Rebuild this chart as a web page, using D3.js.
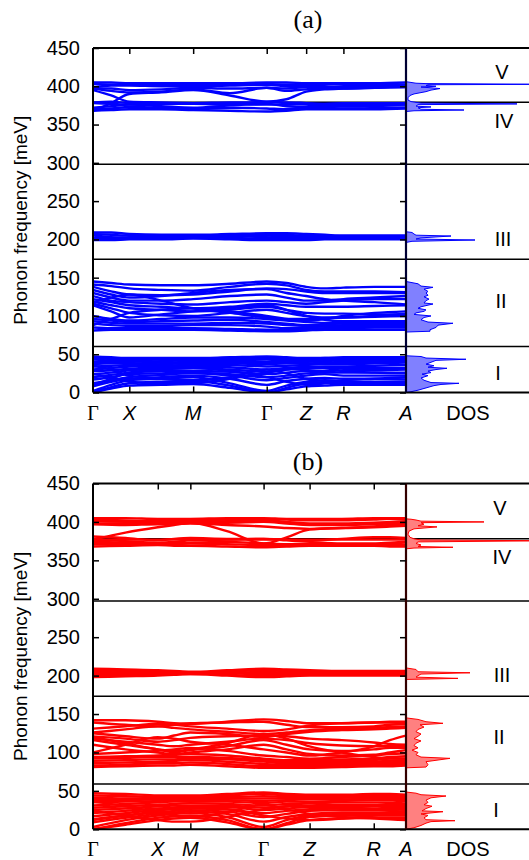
<!DOCTYPE html>
<html><head><meta charset="utf-8">
<script src="https://cdn.jsdelivr.net/npm/d3@7"></script>
<style>body{margin:0;background:#fff}</style></head>
<body>
<svg id="c" width="529" height="860"></svg>
<script>
// ---------- DATA ----------
const kLabels = ["Γ","X","M","Γ","Z","R","A"];
const kTicksA = [0, 0.116, 0.320, 0.555, 0.681, 0.800, 1.0];
const kTicksB = [0, 0.207, 0.311, 0.545, 0.692, 0.897, 1.0];
const yTicks = [0,50,100,150,200,250,300,350,400,450];
const romanLabels = ["V","IV","III","II","I"];
const romanFreq = [418, 355, 201, 120, 25];
const separatorsA = [60, 174, 298, 379];
const separatorsB = [59, 173, 297, 378];

// bands at nodes: Γ, ·, X, ·, M, ·, Γ, ·, Z, ·, R, ·, A
const bandsA = [
// group I
[0,5,9,10,11,6,0,4,8,9,10,10,10],
[0,7,12,14,15,9,0,6,12,13,12,12,12],
[2,10,16,18,20,12,2,9,14,16,15,14,14],
[8,14,18,20,22,18,10,15,18,19,18,18,17],
[12,16,20,23,25,22,16,19,22,24,22,22,22],
[17,20,24,25,26,24,20,22,25,26,26,26,26],
[20,23,26,28,28,27,24,26,28,28,29,29,30],
[24,26,29,31,32,30,27,30,31,32,32,32,32],
[28,29,31,33,34,33,30,32,33,34,34,35,36],
[30,32,34,35,36,36,34,35,36,37,37,38,39],
[34,35,36,37,38,38,37,38,38,39,40,40,41],
[37,38,38,39,40,40,40,40,40,41,42,42,42],
[40,40,40,41,42,42,43,42,42,43,43,43,43],
[43,42,42,43,43,44,45,44,43,44,44,44,44],
[45,44,44,44,44,45,46,45,44,45,45,45,45],
[47,46,45,45,45,46,47,46,45,45,46,46,46],
[35,30,22,18,16,20,30,25,18,15,14,13,12],
[24,20,14,12,12,18,26,30,34,32,28,26,25],
[10,18,26,30,32,28,20,14,10,12,16,18,20],
// group II
[145,143,141,140,140,142,145,143,138,136,137,138,138],
[141,139,136,134,133,138,142,140,134,132,132,132,131],
[138,132,128,127,128,132,136,135,132,130,130,130,130],
[134,128,124,126,130,134,135,130,126,122,120,118,115],
[130,124,120,120,122,126,128,124,120,120,122,124,126],
[126,120,118,116,115,118,120,118,116,118,120,122,122],
[122,118,114,112,110,112,116,114,112,112,112,113,114],
[119,114,110,108,106,108,112,108,104,103,103,102,102],
[116,110,104,101,100,104,108,104,100,98,98,99,100],
[114,106,98,102,106,110,114,108,100,95,93,93,93],
[100,96,94,96,98,98,96,94,92,91,91,92,92],
[96,94,92,93,94,95,92,90,88,89,90,90,90],
[93,91,90,90,90,91,90,88,87,87,88,88,88],
[90,88,87,87,88,88,86,84,85,86,86,86,86],
[85,84,84,84,84,83,82,82,83,84,84,85,85],
[81,82,82,82,82,81,80,80,81,82,82,82,82],
[118,124,128,120,110,104,98,96,96,97,98,100,103],
[88,96,104,108,110,106,100,96,94,96,100,104,106],
// group III
[209,209,207,206,206,207,208,208,207,206,205,205,205],
[207,206,205,205,205,206,207,206,205,205,204,204,204],
[205,203,202,203,204,205,205,204,204,203,203,203,203],
[202,202,203,204,204,204,203,202,202,202,202,202,202],
[200,200,201,202,203,202,201,201,200,201,201,201,201],
[199,199,200,200,201,200,199,199,199,200,200,200,200],
// group IV
[379,380,378,378,378,379,379,379,378,377,377,376,376],
[378,377,376,377,377,376,380,378,376,374,374,375,376],
[372,374,376,374,372,375,377,374,373,374,374,373,372],
[370,371,373,372,371,372,371,370,372,372,371,371,372],
[368,369,370,370,369,368,367,368,370,370,370,370,371],
[395,388,380,379,378,377,376,376,377,377,378,378,378],
// group V
[405,405,404,404,404,404,405,405,404,404,404,404,405],
[403,402,403,403,402,402,403,402,402,402,403,403,402],
[398,401,401,400,400,401,402,400,399,399,400,400,401],
[397,397,395,396,398,397,398,397,399,398,398,399,400],
[397,394,392,393,396,391,398,394,396,397,397,398,399],
[368,378,390,392,395,388,380,383,393,396,397,398,399]
];

const bandsB = [
// group I
[0,6,12,14,15,9,0,6,12,14,15,15,15],
[0,8,15,17,18,12,0,8,16,18,18,18,18],
[3,12,18,20,21,16,3,12,18,20,20,20,20],
[9,15,20,22,23,20,10,16,20,22,22,22,22],
[13,18,22,24,25,23,16,20,24,25,25,25,26],
[17,21,25,26,27,26,21,24,26,27,27,28,28],
[21,24,27,28,29,29,25,27,29,29,30,30,30],
[25,27,30,31,31,31,28,30,31,32,32,33,33],
[28,30,32,33,34,33,31,33,34,35,35,35,36],
[31,33,35,36,36,36,34,36,36,37,38,38,38],
[35,36,37,38,38,38,37,38,39,39,40,40,40],
[38,38,39,40,40,40,40,40,41,41,42,42,42],
[41,40,40,41,41,42,43,42,42,43,43,43,43],
[44,43,42,42,42,44,46,44,43,44,44,44,44],
[47,46,44,44,44,46,48,46,45,45,46,46,45],
[36,30,22,18,16,22,32,26,20,16,14,13,12],
[24,18,12,10,10,16,26,30,34,30,26,24,23],
[12,18,24,28,30,26,18,14,12,14,18,22,24],
// group II
[142,142,140,138,137,140,143,141,138,138,139,140,140],
[139,136,134,136,138,139,140,136,133,133,134,136,137],
[131,134,137,136,134,131,128,130,135,138,139,139,138],
[126,130,134,132,130,127,124,126,129,131,132,133,134],
[125,121,118,122,126,124,120,124,127,129,130,131,132],
[121,118,114,116,119,121,122,121,118,116,113,111,110],
[118,114,110,108,110,114,118,116,112,109,108,108,108],
[116,110,104,100,103,108,116,110,104,102,104,106,106],
[110,104,100,98,100,104,110,104,98,96,97,100,103],
[98,100,102,104,106,102,96,94,92,94,96,98,99],
[94,95,96,97,98,96,92,90,90,91,92,94,95],
[92,93,94,94,94,93,90,88,88,89,90,92,92],
[89,90,91,91,92,91,88,86,86,87,88,89,90],
[86,87,88,89,90,88,85,84,84,85,86,87,88],
[83,84,86,86,87,85,82,82,82,83,84,85,85],
[81,82,83,83,84,82,80,80,80,81,82,82,83],
[120,112,104,102,104,112,124,118,108,100,94,92,92],
[100,110,120,118,114,110,104,100,96,100,108,116,122],
// group III
[209,208,207,206,205,207,209,208,207,206,206,206,206],
[207,206,205,204,204,205,207,206,205,205,205,205,205],
[205,204,203,203,203,203,205,204,204,204,204,204,204],
[202,202,202,202,202,203,202,202,202,202,203,203,203],
[200,200,201,202,203,201,200,201,201,202,202,202,202],
[198,199,200,201,202,200,198,199,200,200,200,200,200],
// group IV
[377,377,377,377,377,377,377,377,377,377,377,377,377],
[381,379,376,378,379,378,378,377,376,378,380,380,379],
[377,375,373,374,376,377,378,376,374,372,372,373,374],
[374,373,372,372,373,374,372,371,371,371,370,372,373],
[371,371,371,371,372,371,370,370,370,370,371,370,370],
[368,369,370,369,369,368,367,368,369,369,369,368,368],
// group V
[405,405,404,404,404,405,405,404,404,404,405,405,405],
[403,402,401,401,402,403,404,403,402,402,403,404,404],
[401,400,399,399,400,401,402,400,398,398,399,400,401],
[398,398,398,398,399,399,400,398,396,396,397,398,399],
[397,396,397,397,398,396,394,392,391,392,394,396,397],
[377,386,393,396,399,388,372,380,390,392,393,394,395]
];

// DOS groups: [frequency, dos (a.u.)]
const dosA = [
 [[0,0],[1,5],[3,12],[6,20],[9,28],[10.5,35],[12,53],[13,25],[16,18],[19,15],[22,22],[24,16],[26,25],[28,22],[30,30],[31.6,41],[33,22],[35,28],[37,20],[40,26],[42,30],[43.4,60],[45,20],[47,15],[48,0]],
 [[79,0],[80,24],[82,24],[85,30],[88,32],[90.4,47],[92,22],[95,15],[98,18],[100,25],[102,8],[104,10],[106,18],[108,20],[110,12],[112,15],[115.6,27],[117,18],[120,20],[122,23],[125,18],[127,22],[130,20],[132,22],[135,18],[137.4,27],[139,15],[142,12],[145,0]],
 [[196,0],[197.5,6],[199.2,69],[200.5,10],[202,15],[203.2,30],[204.4,45],[205.5,10],[207,8],[209,6],[210,0]],
 [[367,0],[368,8],[369,58],[370,15],[372,12],[373,25],[374,10],[376,12],[377,111],[378,15],[379,10],[380,5],[382,2],[385,2],[388,4],[390,8],[393,20],[395,25],[397,34],[398,25],[399,15],[400,30],[401,20],[402,22],[402.6,140],[403.5,20],[404,10],[405,5],[406,0]]
];
const dosB = [
 [[0,0],[2,8],[5,15],[8,20],[10,25],[11.2,49],[12.5,20],[15,18],[18,22],[20,15],[22.9,37],[24,16],[27,20],[30,26],[32,18],[35,22],[38,20],[41,25],[43.3,40],[45,15],[47,10],[48.5,0]],
 [[80,0],[81,20],[84,22],[88,20],[92.3,44],[94,15],[97,10],[100,12],[103,6],[106,12],[109,8],[112,10],[115,15],[118,8],[121,12],[124,15],[127,10],[130,12],[133,18],[136,14],[137.9,37],[140,20],[143,12],[145,0]],
 [[195,0],[196.4,52],[198,10],[200,12],[202,15],[203.7,64],[205,12],[208,10],[210,0]],
 [[365,0],[366,8],[367,47],[368,12],[370,15],[372,10],[374,12],[375.5,140],[376.5,15],[378,8],[380,4],[384,2],[388,3],[391,8],[393.5,31],[395,12],[397,18],[399,15],[400,78],[401,15],[402.5,10],[403.5,5],[404,0]]
];

// ---------- DRAW ----------
const svg = d3.select("#c");
const X0 = 93, XA = 406, XR = 529;
const sans = "'Liberation Sans', Arial, sans-serif";
const serif = "'Liberation Serif', 'Times New Roman', serif";

function panel(cfg) {
  const g = svg.append("g");
  const x = d3.scaleLinear().domain([0,1]).range([X0, XA]);
  const y = d3.scaleLinear().domain([0,450]).range([cfg.bottom, cfg.top]);
  const dx = d3.scaleLinear().domain([0,100]).range([XA, XA+100]);
  const t = cfg.kTicks;
  const nodes = [];
  for (let i=0;i<t.length-1;i++){ nodes.push(t[i], (t[i]+t[i+1])/2); }
  nodes.push(t[t.length-1]);

  const clipId = "clip"+cfg.id;
  svg.append("clipPath").attr("id", clipId).append("rect")
    .attr("x", X0).attr("y", cfg.top).attr("width", XA-X0).attr("height", cfg.bottom-cfg.top);
  const clipD = "clipd"+cfg.id;
  svg.append("clipPath").attr("id", clipD).append("rect")
    .attr("x", XA).attr("y", cfg.top).attr("width", XR-XA).attr("height", cfg.bottom-cfg.top);

  // separators
  g.selectAll("line.sep").data(cfg.seps).enter().append("line")
    .attr("x1", X0).attr("x2", XR).attr("y1", d=>y(d)).attr("y2", d=>y(d))
    .attr("stroke", "#000").attr("stroke-width", 1.5);

  // bands
  const line = d3.line().x((d,i)=>x(nodes[i])).y(d=>y(d)).curve(d3.curveMonotoneX);
  g.append("g").attr("clip-path", `url(#${clipId})`)
    .selectAll("path").data(cfg.bands).enter().append("path")
    .attr("d", line).attr("fill","none").attr("stroke", cfg.color).attr("stroke-width", 2.4);

  // DOS
  const area = d3.area().y(d=>y(d[0])).x0(XA).x1(d=>dx(d[1]));
  g.append("g").attr("clip-path", `url(#${clipD})`)
    .selectAll("path").data(cfg.dos).enter().append("path")
    .attr("d", area).attr("fill", cfg.fill).attr("stroke", cfg.color).attr("stroke-width", 1);

  // frame
  g.append("line").attr("x1",X0).attr("x2",XR).attr("y1",cfg.top).attr("y2",cfg.top).attr("stroke","#000").attr("stroke-width",2);
  g.append("line").attr("x1",X0).attr("x2",XR).attr("y1",cfg.bottom).attr("y2",cfg.bottom).attr("stroke","#000").attr("stroke-width",2);
  g.append("line").attr("x1",X0).attr("x2",X0).attr("y1",cfg.top).attr("y2",cfg.bottom).attr("stroke","#000").attr("stroke-width",2);
  g.append("line").attr("x1",XA).attr("x2",XA).attr("y1",cfg.top).attr("y2",cfg.bottom).attr("stroke",cfg.axisColor).attr("stroke-width",2.2);

  // y axis
  const ya = g.append("g").attr("transform",`translate(${X0},0)`)
    .call(d3.axisLeft(y).tickValues(yTicks).tickSize(-6).tickPadding(13));
  ya.select(".domain").remove();
  ya.selectAll(".tick line").attr("stroke","#000").attr("stroke-width",1.5);
  ya.selectAll("text").attr("font-family", sans).attr("font-size", 20).attr("fill","#000");
  const yr = g.append("g").attr("transform",`translate(${XA},0)`)
    .call(d3.axisLeft(y).tickValues(yTicks).tickSize(6).tickFormat(""));
  yr.select(".domain").remove();
  yr.selectAll(".tick line").attr("stroke","#000").attr("stroke-width",1.5);

  // k ticks top/bottom
  const inner = t.slice(1, t.length-1);
  const xt = g.append("g").attr("transform",`translate(0,${cfg.top})`)
    .call(d3.axisTop(x).tickValues(inner).tickSize(-6).tickFormat(""));
  xt.select(".domain").remove();
  xt.selectAll(".tick line").attr("stroke","#000").attr("stroke-width",1.5);
  const xb = g.append("g").attr("transform",`translate(0,${cfg.bottom})`)
    .call(d3.axisBottom(x).tickValues(inner).tickSize(-6).tickFormat(""));
  xb.select(".domain").remove();
  xb.selectAll(".tick line").attr("stroke","#000").attr("stroke-width",1.5);

  // k labels
  g.selectAll("text.kl").data(kLabels).enter().append("text")
    .attr("x", (d,i)=>x(t[i])).attr("y", cfg.bottom+27)
    .attr("text-anchor","middle")
    .attr("font-family", d=>d==="Γ"?serif:sans)
    .attr("font-style", d=>d==="Γ"?"normal":"italic")
    .attr("font-size", 20)
    .text(d=>d);
  g.append("text").attr("x",468).attr("y",cfg.bottom+27).attr("text-anchor","middle")
    .attr("font-family",sans).attr("font-size",20).text("DOS");

  // roman labels
  g.selectAll("text.rl").data(romanLabels).enter().append("text")
    .attr("x", (d,i)=>cfg.romanX[i]).attr("y", (d,i)=>y(romanFreq[i]))
    .attr("dy","0.35em").attr("text-anchor","middle")
    .attr("font-family",sans).attr("font-size",20).text(d=>d);

  // y title
  g.append("text").attr("transform",`translate(27,${(cfg.top+cfg.bottom)/2}) rotate(-90)`)
    .attr("text-anchor","middle").attr("font-family",sans).attr("font-size",19)
    .text("Phonon frequency [meV]");

  // panel title
  g.append("text").attr("x",308).attr("y",cfg.titleY).attr("text-anchor","middle")
    .attr("font-family",serif).attr("font-size",26).text(cfg.title);
}

panel({id:"a", top:48, bottom:392.5, kTicks:kTicksA, bands:bandsA, dos:dosA, seps:separatorsA,
  color:"#0000ff", fill:"#8080ff", axisColor:"#000033", title:"(a)", titleY:28,
  romanX:[502,504,503,501,498]});
panel({id:"b", top:483.5, bottom:829.3, kTicks:kTicksB, bands:bandsB, dos:dosB, seps:separatorsB,
  color:"#ff0000", fill:"#ff8080", axisColor:"#330000", title:"(b)", titleY:470,
  romanX:[500,502,502,499,496]});
</script>
</body></html>
